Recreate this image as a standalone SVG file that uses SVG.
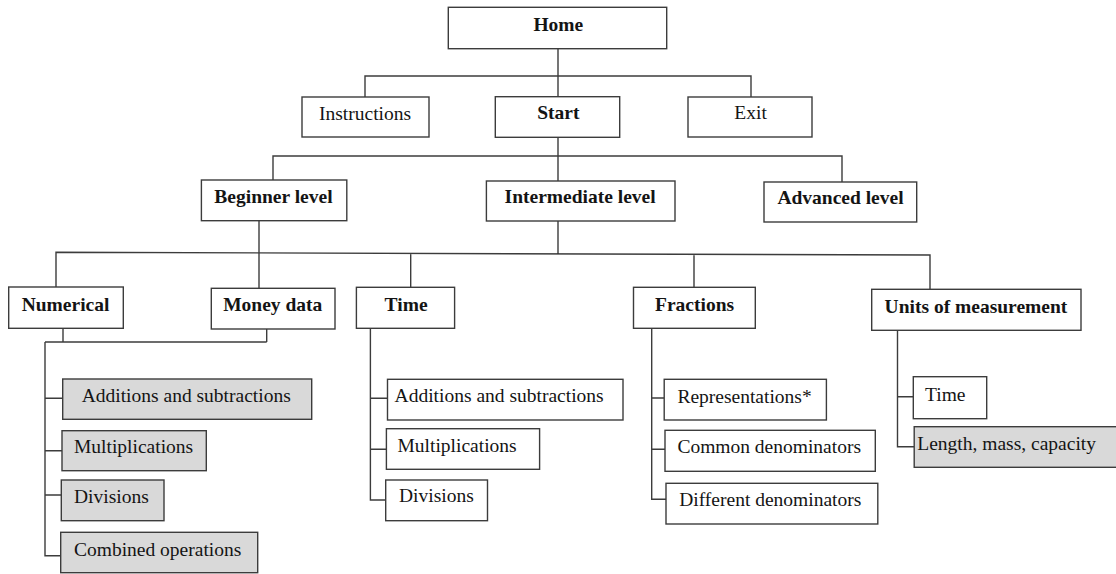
<svg xmlns="http://www.w3.org/2000/svg" width="1116" height="574" viewBox="0 0 1116 574">
<style>
.box{fill:#ffffff;stroke:#3c3c3c;stroke-width:1.4}
.gray{fill:#d9d9d9}
.t{font-family:"Liberation Serif","Times New Roman",serif;font-size:19.5px;fill:#141414}
.b{font-weight:bold}
.m{text-anchor:middle}
.c{fill:none;stroke:#3c3c3c;stroke-width:1.4}
</style>
<rect width="1116" height="574" fill="#ffffff"/>
<g id="connectors" class="c">
<path d="M558,49 V97 M365,97 V76 H751 V97"/>
<path d="M558,137 V181 M273,180 V156 H842 V182"/>
<path d="M259,221 V288"/>
<path d="M558,221 V253.5 M56,287 V252.3 L930,255 V289 M410.7,253.5 V287 M694,254.4 V287"/>
<path d="M63,328 V342 M266.7,329 V342 M45,342 H266.7 M45,342 V555.7 H61 M45,398.3 H62.7 M45,450.7 H62 M45,495 H61.3"/>
<path d="M370.4,328 V500 H385.7 M370.4,398.3 H387.5 M370.4,449.3 H386.4"/>
<path d="M651.7,328 V499.3 H666 M651.7,398 H664.2 M651.7,449.3 H665"/>
<path d="M897.5,330 V446.7 H914.2 M897.5,396.7 H913.3"/>
</g>
<g id="home"><rect class="box" x="448.3" y="7.3" width="218.4" height="41.4"/><text class="t b m" x="558.3" y="30.7">Home</text></g>
<g id="instructions"><rect class="box" x="302" y="97" width="127" height="40"/><text class="t" x="319" y="120">Instructions</text></g>
<g id="start"><rect class="box" x="495.3" y="96.7" width="124.4" height="40.6"/><text class="t b m" x="558.3" y="119.3">Start</text></g>
<g id="exit"><rect class="box" x="688" y="97" width="124" height="40"/><text class="t m" x="750.6" y="119.3">Exit</text></g>
<g id="beginner"><rect class="box" x="201.4" y="180" width="145.4" height="40.7"/><text class="t b" x="214.3" y="203.3">Beginner level</text></g>
<g id="intermediate"><rect class="box" x="486.4" y="181" width="188.6" height="40"/><text class="t b" x="504.6" y="203.3">Intermediate level</text></g>
<g id="advanced"><rect class="box" x="764" y="182" width="152.7" height="40"/><text class="t b" x="777.4" y="204">Advanced level</text></g>
<g id="numerical"><rect class="box" x="8.7" y="287" width="114.6" height="41.3"/><text class="t b" x="21.7" y="310.7">Numerical</text></g>
<g id="money"><rect class="box" x="211.3" y="288.3" width="123.7" height="40.7"/><text class="t b" x="223.2" y="310.7">Money data</text></g>
<g id="time"><rect class="box" x="356.4" y="287.3" width="98.2" height="41"/><text class="t b" x="384.6" y="310.7">Time</text></g>
<g id="fractions"><rect class="box" x="633.5" y="287.3" width="121.8" height="41"/><text class="t b" x="655" y="310.7">Fractions</text></g>
<g id="units"><rect class="box" x="871.7" y="289.3" width="209.3" height="41"/><text class="t b" x="884.6" y="312.7">Units of measurement</text></g>
<g id="num-add"><rect class="box gray" x="62.7" y="379" width="249" height="40.3"/><text class="t" x="81.7" y="401.7">Additions and subtractions</text></g>
<g id="num-mult"><rect class="box gray" x="62" y="430.7" width="144.3" height="40"/><text class="t" x="74" y="453.3">Multiplications</text></g>
<g id="num-div"><rect class="box gray" x="61.3" y="480" width="102.7" height="40.7"/><text class="t" x="74" y="502.7">Divisions</text></g>
<g id="num-comb"><rect class="box gray" x="60.7" y="532.3" width="197" height="40.4"/><text class="t" x="74" y="555.7">Combined operations</text></g>
<g id="time-add"><rect class="box" x="387.5" y="379.3" width="235.5" height="40.7"/><text class="t" x="394.6" y="402.3">Additions and subtractions</text></g>
<g id="time-mult"><rect class="box" x="386.4" y="428.7" width="153.2" height="40.6"/><text class="t" x="397.5" y="451.7">Multiplications</text></g>
<g id="time-div"><rect class="box" x="385.7" y="480" width="101.8" height="40.7"/><text class="t" x="399" y="502.3">Divisions</text></g>
<g id="frac-rep"><rect class="box" x="664.2" y="379.3" width="162.2" height="40.7"/><text class="t" x="677.4" y="402.7">Representations*</text></g>
<g id="frac-common"><rect class="box" x="665" y="430.3" width="210.3" height="41"/><text class="t" x="677.4" y="453.3">Common denominators</text></g>
<g id="frac-diff"><rect class="box" x="666" y="483.3" width="211.8" height="40.7"/><text class="t" x="679.2" y="506">Different denominators</text></g>
<g id="units-time"><rect class="box" x="913.3" y="376.7" width="73.4" height="42"/><text class="t" x="925" y="400.7">Time</text></g>
<g id="units-length"><rect class="box gray" x="914.2" y="426.7" width="210" height="40.6"/><text class="t" x="917.3" y="450">Length, mass, capacity</text></g>
</svg>
